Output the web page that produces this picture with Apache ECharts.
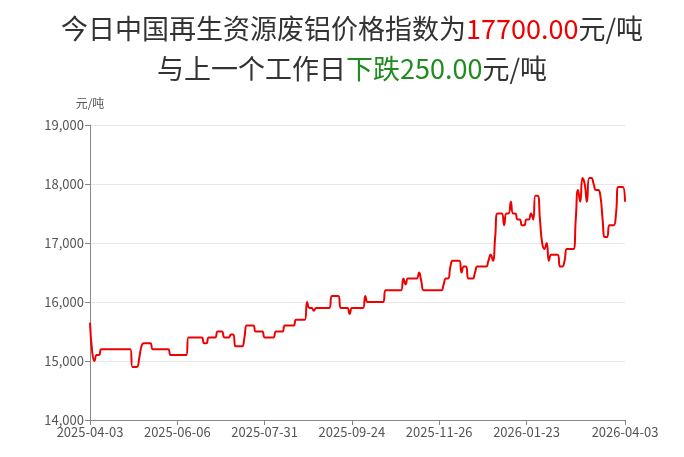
<!DOCTYPE html>
<html>
<head>
<meta charset="utf-8">
<script src="https://cdn.jsdelivr.net/npm/echarts@6/dist/echarts.min.js"></script>
<style>html,body{margin:0;padding:0;background:#fff;}#c{width:684px;height:457px;}</style>
</head>
<body>
<div id="c"></div>
<script>
const dates = [
'2025-04-03','2025-04-07','2025-04-08','2025-04-09','2025-04-10','2025-04-11','2025-04-14','2025-04-15','2025-04-16','2025-04-17',
'2025-04-18','2025-04-21','2025-04-22','2025-04-23','2025-04-24','2025-04-25','2025-04-28','2025-04-29','2025-05-06','2025-05-07',
'2025-05-08','2025-05-09','2025-05-12','2025-05-13','2025-05-14','2025-05-15','2025-05-16','2025-05-19','2025-05-20','2025-05-21',
'2025-05-22','2025-05-23','2025-05-26','2025-05-27','2025-05-28','2025-05-29','2025-06-03','2025-06-04','2025-06-05','2025-06-06',
'2025-06-09','2025-06-10','2025-06-11','2025-06-12','2025-06-13','2025-06-16','2025-06-17','2025-06-18','2025-06-19','2025-06-20',
'2025-06-23','2025-06-24','2025-06-25','2025-06-26','2025-06-27','2025-06-30','2025-07-01','2025-07-02','2025-07-03','2025-07-04',
'2025-07-07','2025-07-08','2025-07-09','2025-07-10','2025-07-11','2025-07-14','2025-07-15','2025-07-16','2025-07-17','2025-07-18',
'2025-07-21','2025-07-22','2025-07-23','2025-07-24','2025-07-25','2025-07-28','2025-07-29','2025-07-30','2025-07-31','2025-08-01',
'2025-08-04','2025-08-05','2025-08-06','2025-08-07','2025-08-08','2025-08-11','2025-08-12','2025-08-13','2025-08-14','2025-08-15',
'2025-08-18','2025-08-19','2025-08-20','2025-08-21','2025-08-22','2025-08-25','2025-08-26','2025-08-27','2025-08-28','2025-08-29',
'2025-09-01','2025-09-02','2025-09-03','2025-09-04','2025-09-05','2025-09-08','2025-09-09','2025-09-10','2025-09-11','2025-09-12',
'2025-09-15','2025-09-16','2025-09-17','2025-09-18','2025-09-19','2025-09-22','2025-09-23','2025-09-24','2025-09-25','2025-09-26',
'2025-09-29','2025-09-30','2025-10-09','2025-10-10','2025-10-13','2025-10-14','2025-10-15','2025-10-16','2025-10-17','2025-10-20',
'2025-10-21','2025-10-22','2025-10-23','2025-10-24','2025-10-27','2025-10-28','2025-10-29','2025-10-30','2025-10-31','2025-11-03',
'2025-11-04','2025-11-05','2025-11-06','2025-11-07','2025-11-10','2025-11-11','2025-11-12','2025-11-13','2025-11-14','2025-11-17',
'2025-11-18','2025-11-19','2025-11-20','2025-11-21','2025-11-24','2025-11-25','2025-11-26','2025-11-27','2025-11-28','2025-12-01',
'2025-12-02','2025-12-03','2025-12-04','2025-12-05','2025-12-08','2025-12-09','2025-12-10','2025-12-11','2025-12-12','2025-12-15',
'2025-12-16','2025-12-17','2025-12-18','2025-12-19','2025-12-22','2025-12-23','2025-12-24','2025-12-25','2025-12-26','2025-12-29',
'2025-12-30','2026-01-05','2026-01-06','2026-01-07','2026-01-08','2026-01-09','2026-01-12','2026-01-13','2026-01-14','2026-01-15',
'2026-01-16','2026-01-19','2026-01-20','2026-01-21','2026-01-22','2026-01-23','2026-01-26','2026-01-27','2026-01-28','2026-01-29',
'2026-01-30','2026-02-02','2026-02-03','2026-02-04','2026-02-05','2026-02-06','2026-02-09','2026-02-10','2026-02-11','2026-02-12',
'2026-02-13','2026-02-24','2026-02-25','2026-02-26','2026-02-27','2026-03-02','2026-03-03','2026-03-04','2026-03-05','2026-03-06',
'2026-03-09','2026-03-10','2026-03-11','2026-03-12','2026-03-13','2026-03-16','2026-03-17','2026-03-18','2026-03-19','2026-03-20',
'2026-03-23','2026-03-24','2026-03-25','2026-03-26','2026-03-27','2026-03-30','2026-03-31','2026-04-01','2026-04-02','2026-04-03'
];

const prices = [
15650,15150,15000,15100,15100,15200,15200,15200,15200,15200,
15200,15200,15200,15200,15200,15200,15200,15200,15200,14900,
14900,14900,15050,15250,15300,15300,15300,15300,15200,15200,
15200,15200,15200,15200,15200,15200,15100,15100,15100,15100,
15100,15100,15100,15100,15400,15400,15400,15400,15400,15400,
15400,15300,15300,15400,15400,15400,15400,15500,15500,15500,
15400,15400,15400,15450,15450,15250,15250,15250,15250,15400,
15600,15600,15600,15600,15500,15500,15500,15500,15400,15400,
15400,15400,15400,15500,15500,15500,15500,15600,15600,15600,
15600,15600,15700,15700,15700,15700,15700,16000,15900,15900,
15850,15900,15900,15900,15900,15900,15900,15900,16100,16100,
16100,16100,15900,15900,15900,15900,15800,15900,15900,15900,
15900,15900,15900,16100,16000,16000,16000,16000,16000,16000,
16000,16000,16200,16200,16200,16200,16200,16200,16200,16200,
16400,16300,16400,16400,16400,16400,16400,16500,16350,16200,
16200,16200,16200,16200,16200,16200,16200,16200,16300,16400,
16400,16600,16700,16700,16700,16700,16500,16600,16600,16400,
16400,16400,16500,16600,16600,16600,16600,16600,16700,16800,
16700,17100,17500,17500,17500,17300,17500,17500,17700,17500,
17500,17400,17400,17300,17300,17400,17400,17500,17400,17800,
17800,17400,17000,16900,17000,16700,16800,16800,16800,16800,
16600,16600,16700,16900,16900,16900,16900,17400,17900,17700,
18100,18000,17700,18100,18100,18000,17900,17900,17800,17400,
17100,17100,17300,17300,17300,17500,17950,17950,17950,17700
];

const tickLabels = ['2025-04-03','2025-06-06','2025-07-31','2025-09-24','2025-11-26','2026-01-23','2026-04-03'];
const todayPrice = '17700.00';
const changeText = '下跌250.00';

const chart = echarts.init(document.getElementById('c'));
const FONT = '"Noto Sans CJK SC", "Noto Sans", sans-serif';
const showTick = (idx, val) => tickLabels.indexOf(val) >= 0;
const titleStyle = (color) => ({ fontSize: 27, color: color, fontFamily: FONT, fontWeight: 'normal', lineHeight: 40, align: 'center' });

chart.setOption({
  animation: false,
  title: {
    left: 347,
    textAlign: 'center',
    top: 4,
    text: '{a|今日中国再生资源废铝价格指数为}{r|' + todayPrice + '}{a|元/吨}\n{a|与上一个工作日}{g|' + changeText + '}{a|元/吨}',
    textStyle: {
      fontFamily: FONT,
      fontWeight: 'normal',
      align: 'center',
      rich: {
        a: titleStyle('#333'),
        r: titleStyle('#ee0000'),
        g: titleStyle('#1e8c1e')
      }
    }
  },
  grid: { left: 90, right: 59, top: 125, bottom: 37, containLabel: false },
  xAxis: {
    type: 'category',
    data: dates,
    boundaryGap: false,
    axisLine: { lineStyle: { color: '#888' } },
    axisTick: { interval: showTick, length: 5, lineStyle: { color: '#888' } },
    axisLabel: { interval: showTick, color: '#555', fontSize: 13, fontFamily: FONT, margin: 6 },
    splitLine: { show: false }
  },
  yAxis: {
    type: 'value',
    min: 14000,
    max: 19000,
    interval: 1000,
    name: '元/吨',
    nameGap: 16,
    nameTextStyle: { color: '#555', fontSize: 12, fontFamily: FONT, align: 'center' },
    axisLine: { show: true, lineStyle: { color: '#888' } },
    axisTick: { show: true, length: 5, lineStyle: { color: '#888' } },
    axisLabel: { color: '#555', fontSize: 13, fontFamily: FONT, margin: 6,
      formatter: v => v.toLocaleString('en-US') },
    splitLine: { lineStyle: { color: '#e6e6e6' } }
  },
  series: [{
    type: 'line',
    data: prices,
    smooth: true,
    showSymbol: false,
    symbol: 'none',
    lineStyle: { color: '#ee0000', width: 2 }
  }]
});
</script>
</body>
</html>
